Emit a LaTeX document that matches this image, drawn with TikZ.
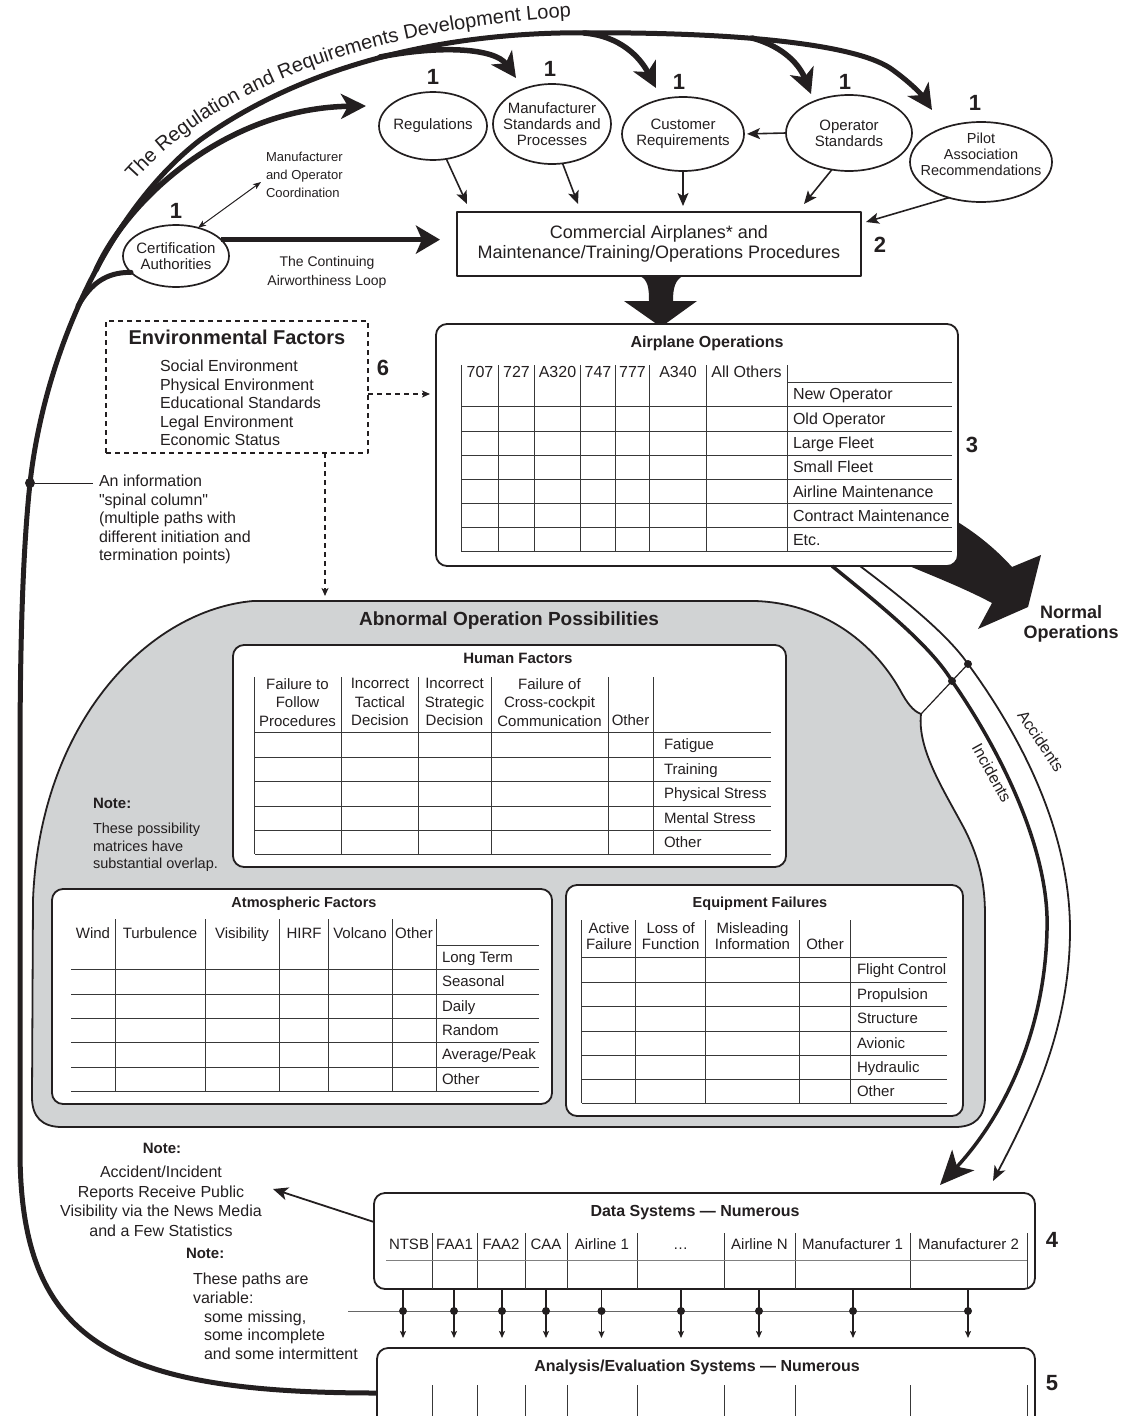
\documentclass[tikz,border=0pt]{standalone}
\usepackage{fontspec}
\setmainfont{Liberation Sans}[Ligatures=TeXOff]
\usetikzlibrary{arrows.meta,calc,decorations.text,shapes.geometric}
\definecolor{ink}{HTML}{231F20}
\definecolor{shade}{HTML}{D1D3D4}
\definecolor{rule}{HTML}{383838}
\newcommand{\fsz}[2]{\fontsize{#1}{#2}\selectfont}
\begin{document}
\begin{tikzpicture}[x=1pt,y=-1pt,line join=round,
  every node/.style={inner sep=0pt,outer sep=0pt,text=ink},
  oval/.style={ellipse,draw=ink,line width=1.7pt,fill=white},
  ovaltext/.style={align=center,font=\fsz{15}{16}},
  num/.style={font=\bfseries\fsz{22}{22}},
  rbox/.style={draw=ink,line width=1.8pt,fill=white,rounded corners=11pt},
  cell/.style={draw=rule,line width=0.9pt},
  lab/.style={anchor=base west,font=\fsz{15}{15}},
  labc/.style={anchor=base,font=\fsz{15}{15}},
  hdr/.style={anchor=north,align=center,font=\fsz{15}{18.5}},
  ttl/.style={anchor=base,font=\bfseries\fsz{#1}{#1}},
  thinarrow/.style={draw=ink,line width=1.6pt,-{Stealth[length=13pt,width=11pt,inset=3pt]}},
  heavy/.style={draw=ink,line width=5.5pt,line cap=round},
  heavyarrow/.style={heavy,-{Stealth[length=25pt,width=25pt,inset=7pt]}},
  dashline/.style={draw=ink,line width=1.8pt,dash pattern=on 5pt off 4pt},
  tinytip/.style={-{Stealth[length=8pt,width=7pt,inset=2pt]}},
  dot/.style={circle,fill=ink,minimum size=8pt},
]
\useasboundingbox (0,0) rectangle (1126,1416);
\clip (0,0) rectangle (1126,1416);

% ---------- shaded region: abnormal operation possibilities
\draw[fill=shade,draw=ink,line width=1.8pt]
  (253,601) -- (755,601)
  .. controls (820,603) and (872,640) .. (900,690)
  .. controls (907,703) and (913,711) .. (921,714)
  .. controls (917,750) and (945,792) .. (965,830)
  .. controls (980,860) and (985,885) .. (985,915)
  -- (985,1097) .. controls (985,1117) and (975,1127) .. (955,1127)
  -- (62,1127) .. controls (42,1127) and (32,1117) .. (32,1097)
  -- (33,900) .. controls (40,720) and (150,610) .. (253,601) -- cycle;
\coordinate (cusp) at (921,714);

% ---------- "normal operations" outflow (behind the operations box)
\fill[ink] (925,505) .. controls (965,522) and (995,548) .. (1012,567)
  -- (1041,555) -- (1028,607) -- (978,629) -- (992,603)
  .. controls (962,587) and (930,575) .. (895,560) -- cycle;

% ---------- funnel arrow from airplanes box to operations
\fill[ink] (640,276) .. controls (648,280) and (649,288) .. (649,301)
  -- (624,301) -- (661,327) -- (697,301) -- (673,301)
  .. controls (673,288) and (675,280) .. (683,276) -- cycle;

% ---------- sources of requirements
\node[oval,minimum width=108pt,minimum height=68pt] (reg) at (433,126) {};
\node[ovaltext] (reg-t) at (reg) {Regulations};
\node[oval,minimum width=118pt,minimum height=80pt] (mfr) at (552,124) {};
\node[ovaltext] (mfr-t) at (mfr) {Manufacturer\\Standards and\\Processes};
\node[oval,minimum width=122pt,minimum height=74pt] (cust) at (683,134) {};
\node[ovaltext] (cust-t) at (cust) {Customer\\Requirements};
\node[oval,minimum width=126pt,minimum height=76pt] (opstd) at (849,133) {};
\node[ovaltext] (opstd-t) at (opstd) {Operator\\Standards};
\node[oval,minimum width=142pt,minimum height=80pt] (pilot) at (981,162) {};
\node[ovaltext,font=\fsz{14.5}{16}] (pilot-t) at (981,154) {Pilot\\Association\\Recommendations};
\node[oval,minimum width=106pt,minimum height=62pt] (cert) at (176,256) {};
\node[ovaltext] (cert-t) at (cert) {Certification\\Authorities};

\node[num] (n-reg) at (433,77) {1};
\node[num] (n-mfr) at (550,69) {1};
\node[num] (n-cust) at (679,82) {1};
\node[num] (n-op) at (845,82) {1};
\node[num] (n-pil) at (975,103) {1};
\node[num] (n-cert) at (176,211) {1};

\node[draw=ink,line width=1.8pt,fill=white,minimum width=404pt,minimum height=64pt,
      align=center,font=\fsz{18}{20}] (cap) at (659,244)
      {Commercial Airplanes* and\\Maintenance/Training/Operations Procedures};
\node[num] (n-cap) at (880,245) {2};

\node[anchor=north west,align=left,font=\fsz{13}{18}] (coord-t) at (266,152)
      {Manufacturer\\and Operator\\Coordination};
\node[anchor=north,align=center,font=\fsz{14}{19}] (cawl-t) at (327,256)
      {The Continuing\\Airworthiness Loop};

% ---------- loop title along the spine
\path[decorate,decoration={text along path,text align=left,
      text={|\color{ink}\fsz{20}{20}|The Regulation and Requirements Development Loop}}]
  (134,181) .. controls (228,76) and (400,20) .. (630,14);

% ---------- environmental factors
\node[dashline,minimum width=262pt,minimum height=132pt] (env) at (237,387) {};
\node[ttl=20] (env-t) at (237,344) {Environmental Factors};
\node[anchor=north west,align=left,font=\fsz{16}{18.5}] (env-l) at (160,360)
      {Social Environment\\Physical Environment\\Educational Standards\\Legal Environment\\Economic Status};
\node[num] (n-env) at (383,368) {6};

\node[anchor=north west,align=left,font=\fsz{16}{18.5}] (spine-t) at (99,475)
      {An information\\"spinal column"\\(multiple paths with\\different initiation and\\termination points)};

% ---------- airplane operations matrix
\node[rbox,minimum width=522pt,minimum height=242pt] (ops) at (697,445) {};
\node[ttl=16] (ops-t) at (707,347) {Airplane Operations};
\node[num] (n-ops) at (972,445) {3};
\foreach \x in {461,498.5,534.5,580.5,615.5,649.5,706,787} \draw[cell] (\x,365) -- (\x,551);
\draw[cell] (787,382) -- (952,382);
\foreach \y in {406.5,431,455,479,503.5,527.5,551} \draw[cell] (461,\y) -- (952,\y);
\foreach \t/\x [count=\i] in {707/480,727/516.5,A320/557.5,747/598,777/632.5,A340/678,All Others/746.5}
  \node[labc,font=\fsz{16}{16}] (opsh\i) at (\x,377.8) {\t};
\foreach \t/\y [count=\i] in {New Operator/399.8,Old Operator/424.5,Large Fleet/448.8,Small Fleet/472.8,Airline Maintenance/497.1,Contract Maintenance/521.3,Etc./545.6}
  \node[lab,font=\fsz{16}{16}] (opsr\i) at (793,\y) {\t};

% ---------- abnormal operation possibilities
\node[ttl=19] (abn-t) at (509,625) {Abnormal Operation Possibilities};

\node[rbox,minimum width=553pt,minimum height=222pt] (hum) at (509.5,756) {};
\node[ttl=15] (hum-t) at (518,663.4) {Human Factors};
\foreach \x in {254,341.5,418,491,608,653} \draw[cell] (\x,677) -- (\x,854);
\foreach \y in {732,757,781,806,830,854} \draw[cell] (255,\y) -- (771,\y);
\node[hdr] (hh1) at (297.5,678.5) {Failure to\\Follow\\Procedures};
\node[hdr] (hh2) at (380,678.5) {Incorrect\\Tactical\\Decision};
\node[hdr] (hh3) at (454.5,678.5) {Incorrect\\Strategic\\Decision};
\node[hdr] (hh4) at (549.5,678.5) {Failure of\\Cross-cockpit\\Communication};
\node[labc] (hh5) at (630.5,725.4) {Other};
\foreach \t/\y [count=\i] in {Fatigue/749.9,Training/774.4,Physical Stress/798.9,Mental Stress/823.4,Other/847.4}
  \node[lab] (hr\i) at (664,\y) {\t};

\node[ttl=15,anchor=base west] (note1) at (93,808) {Note:};
\node[anchor=north west,align=left,font=\fsz{14.5}{17.5}] (note1-t) at (93,823)
      {These possibility\\matrices have\\substantial overlap.};

\node[rbox,minimum width=500pt,minimum height=215pt] (atm) at (302,996.5) {};
\node[ttl=14.5] (atm-t) at (304,907.2) {Atmospheric Factors};
\foreach \x in {115.5,205,279,328.5,392,436} \draw[cell] (\x,919) -- (\x,1091);
\draw[cell] (436,945) -- (538.5,945);
\foreach \y in {969,994,1018,1042,1067,1091} \draw[cell] (71,\y) -- (538.5,\y);
\foreach \t/\x [count=\i] in {Wind/93,Turbulence/160,Visibility/242,HIRF/304,Volcano/360,Other/414}
  \node[labc] (ah\i) at (\x,938.4) {\t};
\foreach \t/\y [count=\i] in {Long Term/962.4,Seasonal/986.9,Daily/1011.4,Random/1035.4,{Average/Peak}/1059.9,Other/1084.4}
  \node[lab] (ar\i) at (442,\y) {\t};

\node[rbox,minimum width=397pt,minimum height=231pt] (eqp) at (764.5,1000.5) {};
\node[ttl=14.5] (eqp-t) at (760,907.2) {Equipment Failures};
\foreach \x in {581.7,635.7,705.7,799.3,850} \draw[cell] (\x,920) -- (\x,1103);
\foreach \y in {957,982,1006,1031,1055,1079,1103} \draw[cell] (582,\y) -- (947,\y);
\node[hdr,font=\fsz{15}{16.5}] (eh1) at (609,922.6) {Active\\Failure};
\node[hdr,font=\fsz{15}{16.5}] (eh2) at (670.7,922.6) {Loss of\\Function};
\node[hdr,font=\fsz{15}{16.5}] (eh3) at (752.5,922.6) {Misleading\\Information};
\node[labc] (eh4) at (825,949.4) {Other};
\foreach \t/\y [count=\i] in {Flight Control/974.9,Propulsion/999.4,Structure/1023.9,Avionic/1048.4,Hydraulic/1072.4,Other/1096.4}
  \node[lab] (er\i) at (857,\y) {\t};

% ---------- data and analysis systems
\node[rbox,minimum width=661pt,minimum height=96pt] (data) at (704.5,1241) {};
\node[ttl=16] (data-t) at (695,1216.8) {Data Systems — Numerous};
\node[num] (n-dat) at (1052,1240) {4};
\node[rbox,minimum width=658pt,minimum height=100pt,anchor=north west] (anal) at (377,1348) {};
\node[ttl=16] (anal-t) at (697,1371.8) {Analysis/Evaluation Systems — Numerous};
\node[num] (n-ana) at (1052,1383) {5};
\foreach \x in {432,477,525,567,637,724,795,910,1027} {
  \draw[cell] (\x,1233) -- (\x,1289);
  \draw[cell] (\x,1385) -- (\x,1420);
}
\draw[cell,draw=gray] (386,1260) -- (1027,1260);
\foreach \t/\x [count=\i] in {NTSB/409,FAA1/454.5,FAA2/501,CAA/546,Airline 1/602,…/680.5,Airline N/759.5,Manufacturer 1/852.5,Manufacturer 2/968.5}
  \node[labc] (dh\i) at (\x,1249) {\t};

\draw[draw=gray!80!black,line width=1pt] (348,1311) -- (968,1311);
\foreach \x [count=\i] in {403,454,502,546,601.5,681,759,853,968} {
  \draw[draw=ink,line width=1.2pt,-{Stealth[length=7pt,width=6pt,inset=1.5pt]},shorten >=10pt]
    (data.south -| \x,0) -- (anal.north -| \x,0);
  \node[dot] (dd\i) at (\x,1311) {};
}

\node[ttl=15] (note2) at (162,1153.4) {Note:};
\node[anchor=north,align=center,font=\fsz{16}{19.5}] (note2-t) at (161,1166)
      {Accident/Incident\\Reports Receive Public\\Visibility via the News Media\\and a Few Statistics};
\node[ttl=15,anchor=base west] (note3) at (186,1258.4) {Note:};
\node[anchor=north west,align=left,font=\fsz{16}{18.7}] (note3-t) at (193,1273)
      {These paths are\\variable:\\\hspace*{11pt}some missing,\\\hspace*{11pt}some incomplete\\\hspace*{11pt}and some intermittent};
\coordinate (note-tip) at (273,1189);
\draw[draw=ink,line width=1.8pt,-{Stealth[length=15pt,width=13pt,inset=4pt]}]
  ($(data.north west)+(0,29)$) -- (note-tip);

% ---------- information spine and development loop
\coordinate (sp0) at ($(anal.north west)+(0,45)$);
\coordinate (pil-tip) at (932,110);
\draw[heavyarrow,line width=5pt,line cap=butt]
  (sp0) .. controls (110,1393) and (20,1340) .. (20,1150)
  -- (20,760) .. controls (20,620) and (24,540) .. (30,483)
  .. controls (45,350) and (110,210) .. (200,140)
  .. controls (300,68) and (430,36) .. (560,33)
  .. controls (720,31) and (850,42) .. (890,68)
  .. controls (910,82) and (922,95) .. (pil-tip);
\coordinate (reg-tip) at (366,106);
\draw[heavyarrow] (96,270) .. controls (130,195) and (230,108) .. (reg-tip);
\draw[heavy,line width=5pt] (78,306) .. controls (90,285) and (105,272) .. (cert.200);
\coordinate (mfr-tip) at (516,78);
\draw[heavyarrow] (380,57) .. controls (440,45) and (495,48) .. (mfr-tip);
\coordinate (cust-tip) at (656,88);
\draw[heavyarrow] (584,33) .. controls (620,36) and (640,57) .. (cust-tip);
\coordinate (op-tip) at (811,94);
\draw[heavyarrow] (752,38) .. controls (785,47) and (800,66) .. (op-tip);

\node[dot,minimum size=10pt] (spdot) at (30,483) {};
\draw[draw=ink,line width=1pt] (spdot) -- (93,483);

% ---------- continuing airworthiness loop and coordination
\draw[draw=ink,line width=5.5pt,-{Stealth[length=24pt,width=28pt,inset=6pt]},shorten >=17pt]
  (cert.20) -- (cert.20 -| cap.west);
\coordinate (coord-end) at (261,182);
\draw[draw=ink,line width=1pt,{Stealth[length=8pt,width=6pt,inset=2pt]}-{Stealth[length=8pt,width=6pt,inset=2pt]}]
  (cert.52) -- (coord-end);

% ---------- inputs to the airplanes box
\coordinate (in1) at (467,204); \draw[thinarrow] (reg.-68) -- (in1);
\coordinate (in2) at (578,204); \draw[thinarrow] (mfr.-75) -- (in2);
\coordinate (in3) at (683,206); \draw[thinarrow] (cust.south) -- (in3);
\coordinate (in4) at (804,204); \draw[thinarrow] (opstd.-115) -- (in4);
\coordinate (in5) at (866,222); \draw[thinarrow] (pilot.-132) -- (in5);
\draw[thinarrow,shorten >=3pt] (opstd.west) -- (cust.east);

% ---------- environmental influences
\coordinate (env-tip1) at (430,394);
\draw[dashline,tinytip] (env.east |- env-tip1) -- (env-tip1);
\coordinate (env-tip2) at (325,596);
\draw[dashline,tinytip] (env.south -| env-tip2) -- (env-tip2);

% ---------- incidents and accidents paths
\coordinate (incdot) at (952,681);
\coordinate (accdot) at (968,664);
\coordinate (inc-tip) at (940,1185);
\coordinate (acc-tip) at (993,1181);
\draw[draw=ink,line width=3.5pt,-{Stealth[length=34pt,width=30pt,inset=9pt]}]
  (ops.south -| 832,0) .. controls (880,605) and (930,645) .. (incdot)
  .. controls (1000,750) and (1050,850) .. (1047,930)
  .. controls (1045,1030) and (1005,1115) .. (inc-tip);
\draw[draw=ink,line width=1.8pt,-{Stealth[length=15pt,width=12pt,inset=4pt]}]
  (ops.south -| 860,0) .. controls (905,600) and (948,635) .. (accdot)
  .. controls (1020,735) and (1070,830) .. (1070,930)
  .. controls (1070,1030) and (1030,1110) .. (acc-tip);
\draw[draw=ink,line width=1.2pt] (accdot) -- (incdot) -- (cusp);
\node[dot] (accd) at (accdot) {};
\node[dot] (incd) at (incdot) {};
\node[font=\fsz{16}{16},rotate=-56] (acc-t) at (1041,741) {Accidents};
\node[font=\fsz{16}{16},rotate=-61] (inc-t) at (992,773) {Incidents};

\node[anchor=north,align=center,font=\bfseries\fsz{18}{20}] (normal-t) at (1071,605)
      {Normal\\Operations};
\end{tikzpicture}
\end{document}
